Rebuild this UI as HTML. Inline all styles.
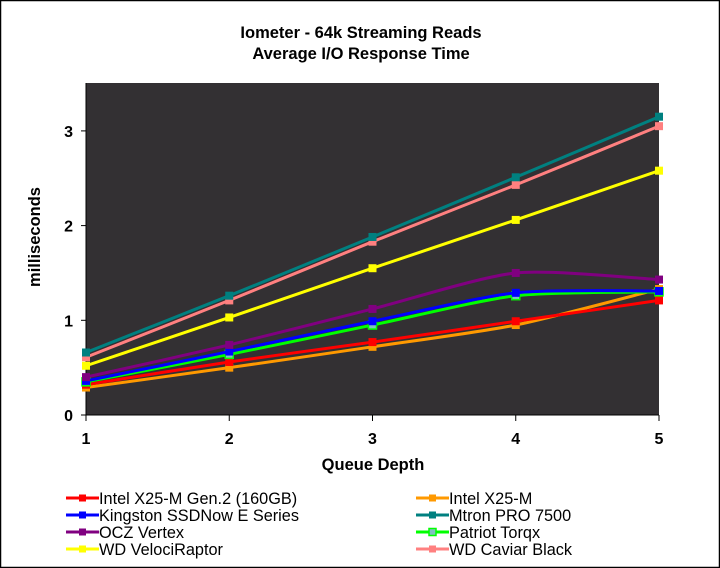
<!DOCTYPE html>
<html><head><meta charset="utf-8"><style>
html,body{margin:0;padding:0;background:#fff}
svg{display:block;font-family:"Liberation Sans",Arial,sans-serif}
</style></head><body>
<svg id="chart" width="720" height="568" viewBox="0 0 720 568">
<rect x="0.5" y="0.5" width="719" height="567" fill="#fff" stroke="#000" stroke-width="1.5"/>
<text x="361" y="38" text-anchor="middle" font-size="16.5" font-weight="bold">Iometer - 64k Streaming Reads</text>
<text x="361" y="59" text-anchor="middle" font-size="16.5" font-weight="bold">Average I/O Response Time</text>
<rect x="86" y="83" width="573" height="332" fill="#333033"/>
<g id="axes"></g>
<g id="series"></g>
<text x="373" y="470" text-anchor="middle" font-size="16.5" font-weight="bold">Queue Depth</text>
<text transform="translate(40,237) rotate(-90)" text-anchor="middle" font-size="16.5" font-weight="bold">milliseconds</text>
<g id="legend"></g>
</svg>
<script>
const categories = [1, 2, 3, 4, 5];
const yTicks = [0, 1, 2, 3];
const seriesNames = ["Intel X25-M Gen.2 (160GB)","Intel X25-M","Kingston SSDNow E Series","Mtron PRO 7500","OCZ Vertex","Patriot Torqx","WD VelociRaptor","WD Caviar Black"];
const intelG2 = [0.32, 0.56, 0.77, 0.99, 1.21];
const intelX25 = [0.29, 0.50, 0.72, 0.95, 1.33];
const kingston = [0.36, 0.67, 0.99, 1.29, 1.31];
const mtron = [0.66, 1.26, 1.88, 2.51, 3.15];
const ocz = [0.40, 0.74, 1.12, 1.50, 1.43];
const patriot = [0.35, 0.64, 0.95, 1.26, 1.30];
const veloci = [0.52, 1.03, 1.55, 2.06, 2.58];
const caviar = [0.61, 1.21, 1.83, 2.43, 3.05];
const seriesValues = [intelG2, intelX25, kingston, mtron, ocz, patriot, veloci, caviar];
const colors = ["#ff0000","#ff9900","#0000ff","#008080","#800080","#00ff00","#ffff00","#ff8080"];
const drawOrder = [1,0,5,2,4,6,7,3];

const NS = "http://www.w3.org/2000/svg";
const X0=86, X1=659, Y0=415, PXU=94.7;
const xs = v => X0 + (v-1)*(X1-X0)/4;
const ys = v => Y0 - v*PXU;
function mk(tag, attrs, parent){const e=document.createElementNS(NS,tag);for(const k in attrs)e.setAttribute(k,attrs[k]);parent.appendChild(e);return e;}

const axes=document.getElementById('axes');
let a=mk('line',{x1:X0,y1:83,x2:X0,y2:Y0,stroke:'#000','stroke-width':1},axes);


a=mk('line',{x1:X0,y1:Y0,x2:X1,y2:Y0,stroke:'#000','stroke-width':1},axes);


yTicks.forEach(t=>{
  mk('line',{x1:X0-5,y1:ys(t),x2:X0,y2:ys(t),stroke:'#000'},axes);
  const tx=mk('text',{x:X0-13,y:ys(t)+6,'text-anchor':'end','font-size':16,'font-weight':'bold'},axes);
  tx.textContent=t;
  
  
});
categories.forEach(c=>{
  mk('line',{x1:xs(c),y1:Y0,x2:xs(c),y2:Y0+6,stroke:'#000'},axes);
  const tx=mk('text',{x:xs(c),y:Y0+29,'text-anchor':'middle','font-size':16,'font-weight':'bold'},axes);
  tx.textContent=c;
  
  
});

function smooth(pts){
  let d=`M${pts[0][0]},${pts[0][1]}`;
  const t=0.12;
  for(let i=0;i<pts.length-1;i++){
    const p0=pts[i-1]||pts[i],p1=pts[i],p2=pts[i+1],p3=pts[i+2]||p2;
    const c1=[p1[0]+(p2[0]-p0[0])*t,p1[1]+(p2[1]-p0[1])*t];
    const c2=[p2[0]-(p3[0]-p1[0])*t,p2[1]-(p3[1]-p1[1])*t];
    d+=` C${c1[0]},${c1[1]} ${c2[0]},${c2[1]} ${p2[0]},${p2[1]}`;
  }
  return d;
}
const sg=document.getElementById('series');
drawOrder.forEach(i=>{
  const g=mk('g',{},sg);
  
  
  const pts=seriesValues[i].map((v,j)=>[xs(categories[j]),ys(v)]);
  mk('path',{d:smooth(pts),fill:'none',stroke:colors[i],'stroke-width':3},g);
  pts.forEach(p=>{
    const m=mk('rect',{x:p[0]-4,y:p[1]-4,width:8,height:8,fill:i===5?'#80c0c0':colors[i],stroke:colors[i],'stroke-width':i===5?1.5:0},g);
    
    
  });
});

const lg=document.getElementById('legend');
seriesNames.forEach((n,i)=>{
  const col=i%2, row=Math.floor(i/2);
  const x=col?416:66, y=498+row*17;
  const g=mk('g',{},lg);
  
  
  mk('line',{x1:x,y1:y,x2:x+33,y2:y,stroke:colors[i],'stroke-width':3},g);
  mk('rect',{x:x+13,y:y-3.5,width:7,height:7,fill:i===5?'#80c0c0':colors[i],stroke:colors[i],'stroke-width':i===5?1.5:0},g);
  const t=mk('text',{x:x+33,y:y+6,'font-size':16.3},g);
  t.textContent=n;
});
</script>
</body></html>
